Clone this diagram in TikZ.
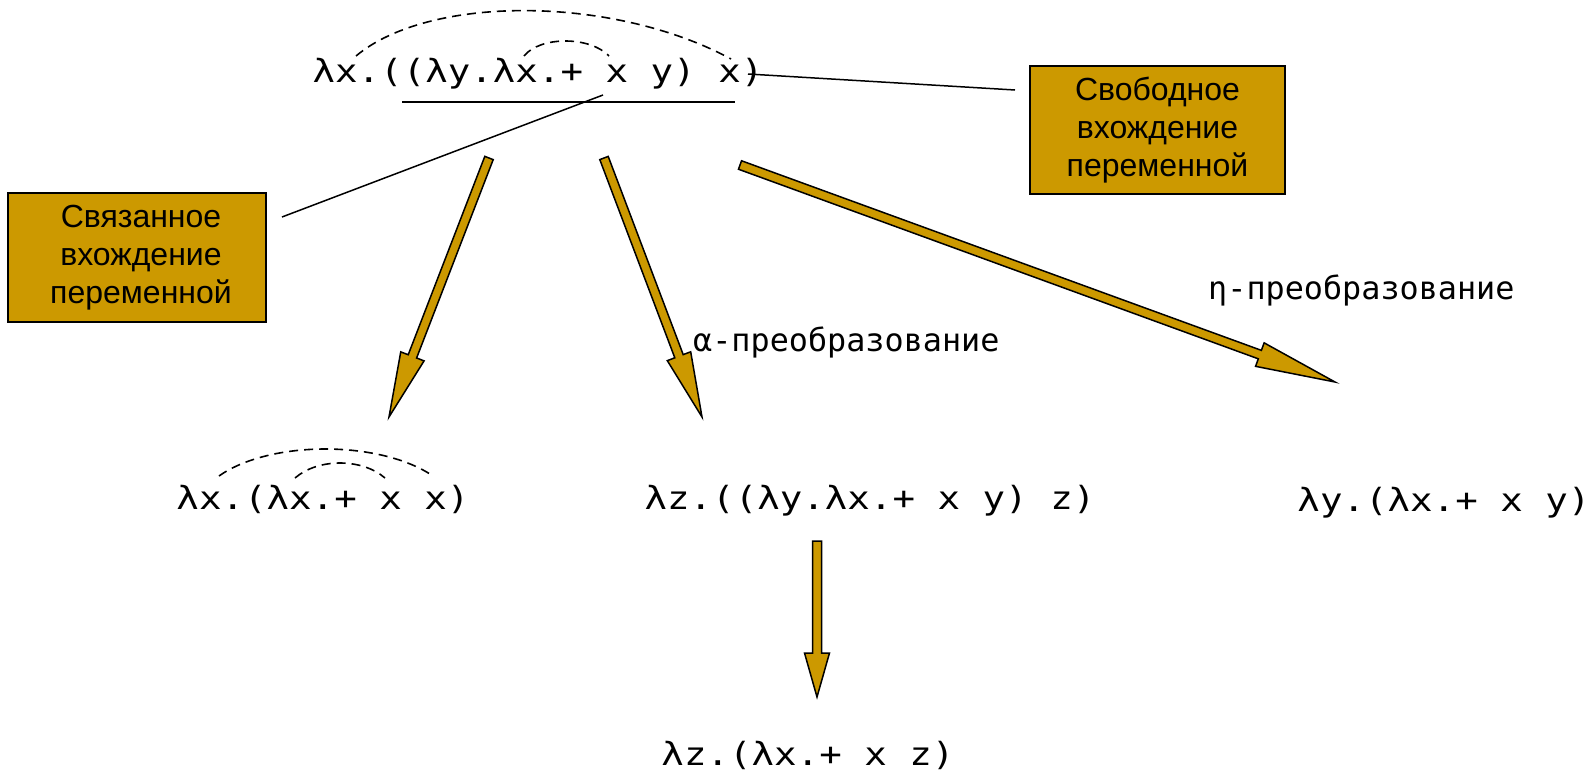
\documentclass[tikz,border=0pt]{standalone}
\usepackage{fontspec}
\setmainfont{Liberation Sans}
\newfontfamily\lamfont[FakeStretch=1.17]{DejaVu Sans Mono}
\newfontfamily\lblfont{DejaVu Sans Mono}
\usetikzlibrary{calc}
\definecolor{gold}{HTML}{CC9900}
\tikzset{
  expr/.style={inner sep=0pt, font=\lamfont\fontsize{32}{38}\selectfont},
  lbl/.style={inner sep=0pt, anchor=west, font=\lblfont\fontsize{31.8}{36}\selectfont},
  infobox/.style={draw=black, line width=1.5pt, fill=gold, align=center, inner sep=0pt,
    font=\fontsize{32}{37.7}\selectfont},
  link/.style={draw=black, line width=1.5pt},
  bindarc/.style={draw=black, dash pattern=on 9pt off 6pt, line width=1.6pt},
  fatarrowstyle/.style={fill=gold, draw=black, line width=1.5pt, line join=miter}
}
% #1 start, #2 tip, #3 head length, #4 name
\newcommand\fatarrow[4]{%
  \coordinate (#4h) at ($(#2)!#3!(#1)$);
  \filldraw[fatarrowstyle]
    ($(#1)!4.5pt!90:(#2)$) -- ($(#4h)!4.5pt!90:(#2)$) -- ($(#4h)!12.5pt!90:(#2)$) --
    (#2) --
    ($(#4h)!12.5pt!-90:(#2)$) -- ($(#4h)!4.5pt!-90:(#2)$) -- ($(#1)!4.5pt!-90:(#2)$) -- cycle;
}
\begin{document}
\begin{tikzpicture}[x=1pt,y=-1pt]
\useasboundingbox (0,0) rectangle (1596,774);

% expressions
\node[expr] (top) at (538,74) {λx.((λy.λx.+ x y) x)};
\node[expr] (e1) at (323,499) {λx.(λx.+ x x)};
\node[expr] (e2) at (870,501) {λz.((λy.λx.+ x y) z)};
\node[expr] (e3) at (1444,503) {λy.(λx.+ x y)};
\node[expr] (e4) at (808,755) {λz.(λx.+ x z)};

% boxes
\node[infobox, minimum width=258pt, minimum height=129pt] (bound) at (137,257.5)
  {\hspace*{8pt}Связанное\\\hspace*{8pt}вхождение\\\hspace*{8pt}переменной};
\node[infobox, minimum width=255pt, minimum height=128pt] (free) at (1157.5,130)
  {Свободное\\вхождение\\переменной};

% labels
\node[lbl] (alpha) at (693,342) {α-преобразование};
\node[lbl] (eta) at (1208,290) {η-преобразование};

% underline and binding arcs
\coordinate (ul1) at (402,102);
\coordinate (ul2) at (735,102);
\draw[link] (ul1) -- (ul2);

\coordinate (oa1) at (356,56);
\coordinate (oa2) at (731,59);
\draw[bindarc] (oa1) .. controls (430,-6) and (615,-4) .. (oa2);
\coordinate (ia1) at (524,56);
\coordinate (ia2) at (609,56);
\draw[bindarc] (ia1) .. controls (540,36) and (590,36) .. (ia2);

\coordinate (la1) at (219,476);
\coordinate (la2) at (433,476);
\draw[bindarc] (la1) .. controls (270,440) and (380,440) .. (la2);
\coordinate (lb1) at (295,478);
\coordinate (lb2) at (385,478);
\draw[bindarc] (lb1) .. controls (318,458) and (362,458) .. (lb2);

% pointer lines
\coordinate (bp1) at (282,217);
\coordinate (bp2) at (603,95);
\draw[link] (bp1) -- (bp2);
\coordinate (fp1) at (1015,90);
\coordinate (fp2) at (748,74);
\draw[link] (fp1) -- (fp2);

% fat arrows
\coordinate (a1s) at (489,158);
\coordinate (a1t) at (389,417);
\fatarrow{a1s}{a1t}{65pt}{a1}
\coordinate (a2s) at (604,158);
\coordinate (a2t) at (702,417);
\fatarrow{a2s}{a2t}{65pt}{a2}
\coordinate (a3s) at (740,165);
\coordinate (a3t) at (1335,382);
\fatarrow{a3s}{a3t}{80pt}{a3}
\coordinate (a4s) at (817,541);
\coordinate (a4t) at (817,697);
\fatarrow{a4s}{a4t}{44pt}{a4}
\end{tikzpicture}
\end{document}
